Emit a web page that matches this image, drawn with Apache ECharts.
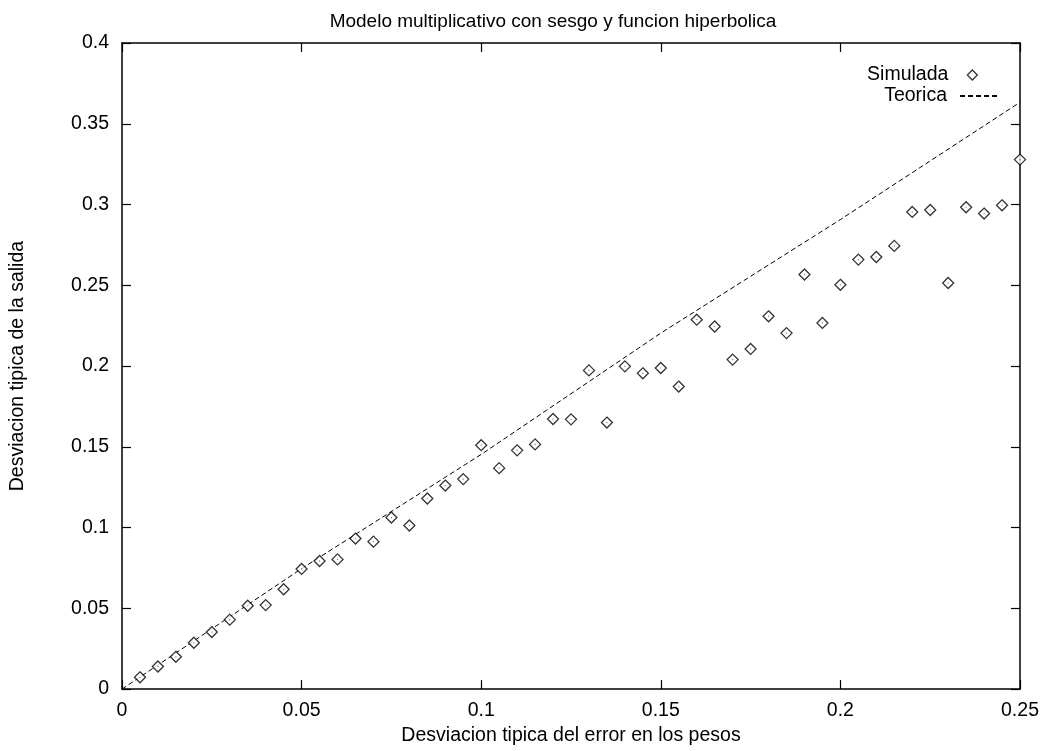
<!DOCTYPE html>
<html>
<head>
<meta charset="utf-8">
<script src="https://cdn.jsdelivr.net/npm/echarts@6/dist/echarts.min.js"></script>
<style>
html,body{margin:0;padding:0;background:#fff;}
#chart{width:1043px;height:751px;}
</style>
</head>
<body>
<div id="chart"></div>
<script>
// ---- data ----
const titleText = 'Modelo multiplicativo con sesgo y funcion hiperbolica';
const xName = 'Desviacion tipica del error en los pesos';
const yName = 'Desviacion tipica de la salida';
const seriesNames = ['Simulada', 'Teorica'];

const simX = [0.005,0.010,0.015,0.020,0.025,0.030,0.035,0.040,0.045,0.050,
              0.055,0.060,0.065,0.070,0.075,0.080,0.085,0.090,0.095,0.100,
              0.105,0.110,0.115,0.120,0.125,0.130,0.135,0.140,0.145,0.150,
              0.155,0.160,0.165,0.170,0.175,0.180,0.185,0.190,0.195,0.200,
              0.205,0.210,0.215,0.220,0.225,0.230,0.235,0.240,0.245,0.250];
const simY = [0.0073,0.0140,0.0200,0.0287,0.0353,0.0430,0.0516,0.0520,0.0618,0.0744,
              0.0793,0.0803,0.0932,0.0913,0.1062,0.1013,0.1180,0.1260,0.1300,0.1510,
              0.1368,0.1478,0.1515,0.1672,0.1670,0.1973,0.1650,0.1998,0.1955,0.1988,
              0.1873,0.2287,0.2245,0.2040,0.2106,0.2308,0.2204,0.2567,0.2267,0.2503,
              0.2659,0.2675,0.2744,0.2954,0.2966,0.2514,0.2983,0.2944,0.2995,0.3278];

const teoX = [0, 0.05, 0.10, 0.15, 0.20, 0.25];
const teoY = [0, 0.0746, 0.1453, 0.2204, 0.2907, 0.3633];

const xMin = 0, xMax = 0.25, xStep = 0.05;
const yMin = 0, yMax = 0.4, yStep = 0.05;

// ---- chart ----
const FONT = 'Liberation Sans, Arial, Helvetica, sans-serif';
const FS = 19.5;
const simData = simX.map((x, i) => [x, simY[i]]);
const teoData = teoX.map((x, i) => [x, teoY[i]]);

const axisCommon = {
  type: 'value',
  axisLine: {show: true, onZero: false, lineStyle: {color: '#000', width: 1.5}},
  axisTick: {show: true, inside: true, length: 9, lineStyle: {color: '#000', width: 1.2}},
  splitLine: {show: false}
};

const chart = echarts.init(document.getElementById('chart'), null, {renderer: 'canvas'});
chart.setOption({
  animation: false,
  backgroundColor: '#fff',
  textStyle: {fontFamily: FONT},
  title: {
    text: titleText,
    left: 553, top: 12, textAlign: 'center', padding: 0,
    textStyle: {fontFamily: FONT, fontSize: 19, fontWeight: 'normal', color: '#000'}
  },
  grid: {left: 121.5, right: 23, top: 43, bottom: 54, containLabel: false},
  legend: [
    {
      data: [{name: seriesNames[0], icon: 'diamond'}],
      right: 65, top: 65, align: 'right', orient: 'vertical',
      itemWidth: 10, itemHeight: 10, itemGap: 0, padding: 0,
      textStyle: {fontFamily: FONT, fontSize: FS, color: '#000', padding: [0, 14, 0, 0]},
      itemStyle: {color: '#fff', borderColor: '#000', borderWidth: 1.3}
    },
    {
      data: [seriesNames[1]],
      right: 44, top: 86, align: 'right', orient: 'vertical',
      itemWidth: 38, itemHeight: 14, itemGap: 0, padding: 0,
      textStyle: {fontFamily: FONT, fontSize: FS, color: '#000', padding: [0, 8, 0, 0]},
      itemStyle: {color: 'rgba(0,0,0,0)', borderColor: 'rgba(0,0,0,0)', borderWidth: 0, opacity: 0}
    }
  ],
  xAxis: [
    Object.assign({}, axisCommon, {
      position: 'bottom', min: xMin, max: xMax, interval: xStep,
      name: xName, nameLocation: 'middle', nameGap: 33,
      nameTextStyle: {fontFamily: FONT, fontSize: FS, color: '#000'},
      axisLabel: {margin: 12, fontFamily: FONT, fontSize: FS, color: '#000'}
    }),
    Object.assign({}, axisCommon, {
      position: 'top', min: xMin, max: xMax, interval: xStep,
      axisLabel: {show: false}
    })
  ],
  yAxis: [
    Object.assign({}, axisCommon, {
      position: 'left', min: yMin, max: yMax, interval: yStep,
      name: yName, nameLocation: 'middle', nameGap: 94,
      nameTextStyle: {fontFamily: FONT, fontSize: FS, color: '#000'},
      axisLabel: {margin: 13, fontFamily: FONT, fontSize: FS, color: '#000'}
    }),
    Object.assign({}, axisCommon, {
      position: 'right', min: yMin, max: yMax, interval: yStep,
      axisLabel: {show: false}
    })
  ],
  series: [
    {
      name: seriesNames[1], type: 'line', data: teoData,
      xAxisIndex: 0, yAxisIndex: 0,
      showSymbol: false, symbol: 'none', smooth: false,
      lineStyle: {color: '#000', width: 1, type: [5, 3]},
      itemStyle: {color: '#000'},
      z: 2
    },
    {
      name: seriesNames[0], type: 'scatter', data: simData,
      xAxisIndex: 0, yAxisIndex: 0,
      symbol: 'diamond', symbolSize: [11, 11],
      itemStyle: {color: '#fff', borderColor: '#000', borderWidth: 1.3},
      z: 3
    },
    {
      name: 'centro', type: 'scatter', data: simData,
      xAxisIndex: 0, yAxisIndex: 0,
      symbol: 'rect', symbolSize: 1.2,
      itemStyle: {color: '#666'},
      silent: true, z: 4
    }
  ]
});
</script>
</body>
</html>
